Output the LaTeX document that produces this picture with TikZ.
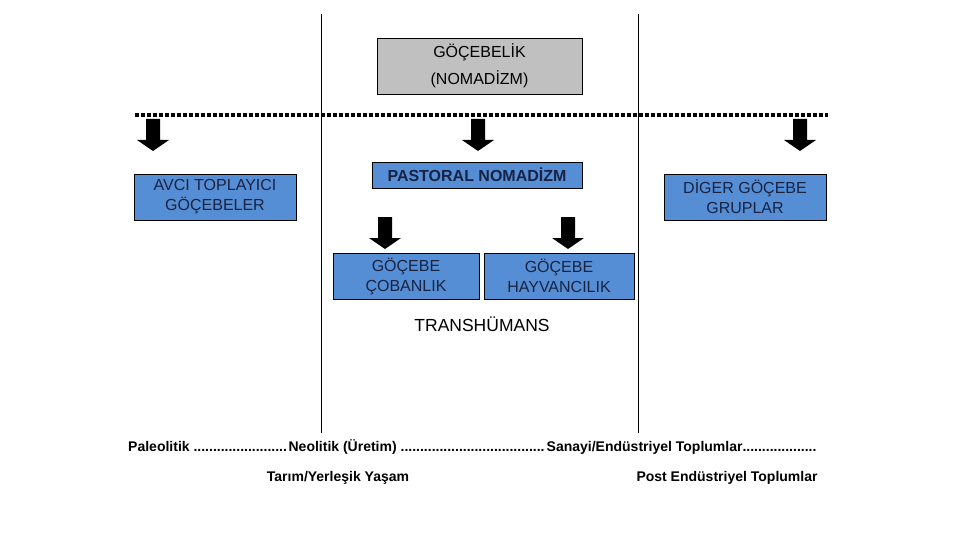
\documentclass[tikz,border=0pt]{standalone}
\usepackage{fontspec}
\setmainfont{Liberation Sans}
\definecolor{boxblue}{RGB}{85,142,213}
\definecolor{boxgray}{RGB}{192,192,192}
\definecolor{navytext}{RGB}{25,35,65}
\newcommand\dts[1]{\makebox[#1]{\leaders\hbox{.}\hfill}}
\tikzset{
  bluebox/.style={draw=black, line width=0.8pt, fill=boxblue, text=navytext, align=center, inner sep=0pt, font=\fontsize{16}{20}\selectfont},
  graybox/.style={draw=black, line width=0.8pt, fill=boxgray, align=center, inner sep=0pt, font=\fontsize{16}{27}\selectfont},
  divider/.style={line width=1pt},
  dotline/.style={line width=3.5pt, dash pattern=on 3.5pt off 2.5pt},
  bottomtext/.style={font=\bfseries\fontsize{14}{16}\selectfont, inner sep=0pt, anchor=base west},
  blockarrow/.pic={\fill[black] (-7,0) -- (7,0) -- (7,21) -- (16,21) -- (0,32) -- (-16,21) -- (-7,21) -- cycle;}
}
\begin{document}
\begin{tikzpicture}[x=1pt,y=-1pt]
\useasboundingbox (0,0) rectangle (960,540);
% vertical dividers
\coordinate (v1t) at (321,14); \coordinate (v1b) at (321,433);
\coordinate (v2t) at (638,14); \coordinate (v2b) at (638,433);
\draw[divider] (v1t) -- (v1b);
\draw[divider] (v2t) -- (v2b);
% top box
\node[graybox, minimum width=205pt, minimum height=56pt] (nom) at (479.5,66) {GÖÇEBELİK\\(NOMADİZM)};
% dotted line
\coordinate (dl) at (135,115); \coordinate (dr) at (828,115);
\draw[dotline] (dl) -- (dr);
% arrows from dotted line
\pic at (153,119) {blockarrow};
\pic at (478,119) {blockarrow};
\pic at (800,119) {blockarrow};
% level 2 boxes
\node[bluebox, minimum width=162pt, minimum height=46pt] (avci) at (215,197) {AVCI TOPLAYICI\\GÖÇEBELER};
\node[bluebox, minimum width=210pt, minimum height=26pt, font=\bfseries\fontsize{16}{20}\selectfont] (past) at (477,175) {PASTORAL NOMADİZM};
\node[bluebox, minimum width=162pt, minimum height=46pt] (diger) at (745,197) {DİGER GÖÇEBE\\GRUPLAR};
% arrows to level 3
\pic at (385,217) {blockarrow};
\pic at (568,217) {blockarrow};
% level 3 boxes
\node[bluebox, minimum width=146pt, minimum height=46pt] (coban) at (406,276) {GÖÇEBE\\ÇOBANLIK};
\node[bluebox, minimum width=150pt, minimum height=46pt] (hayv) at (559,276) {GÖÇEBE\\HAYVANCILIK};
\node[font=\fontsize{17.5}{20}\selectfont, inner sep=0pt] (trans) at (482,324) {TRANSHÜMANS};
% bottom timeline
\node[bottomtext] (time) at (128,451) {Paleolitik \dts{95pt}Neolitik (Üretim) \dts{146pt}Sanayi/Endüstriyel Toplumlar\dts{76pt}};
\node[font=\bfseries\fontsize{14}{16}\selectfont, inner sep=0pt] (tarim) at (338,478) {Tarım/Yerleşik Yaşam};
\node[font=\bfseries\fontsize{14}{16}\selectfont, inner sep=0pt] (post) at (727,478) {Post Endüstriyel Toplumlar};
\end{tikzpicture}
\end{document}
